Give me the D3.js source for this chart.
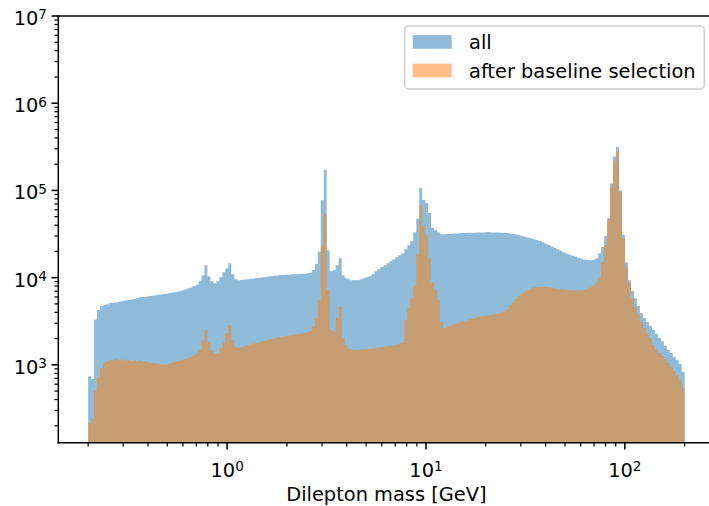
<!DOCTYPE html>
<html>
<head>
<meta charset="utf-8">
<script src="https://cdn.jsdelivr.net/npm/d3@7"></script>
<style>
  html, body { margin: 0; padding: 0; background: #ffffff; }
  svg { display: block; }
  text { font-family: "DejaVu Sans", sans-serif; fill: #000; }
</style>
</head>
<body>
<script>
// ---------------- data ----------------
const massMin = 0.2;       // GeV, first bin edge
const massMax = 200;       // GeV, last bin edge
const seriesNames = ["all", "after baseline selection"];

// counts per log-spaced bin (200 bins between massMin and massMax)
const countsAll = [
  740, 690, 3300, 4250, 4700, 4850, 4950, 5110,
  5150, 5200, 5300, 5400, 5450, 5550, 5600, 5700, 5850, 5950,
  6000, 6050, 6100, 6200, 6250, 6350, 6400, 6500, 6550, 6650, 6750, 6850, 7000,
  7100, 7300, 7500, 7700, 8000, 8300,
  9100, 10650, 13900, 10400, 9100, 8630, 9100, 10100, 11500, 12800, 14600, 10900, 9600, 9340,
  9400, 9500, 9600, 9700, 9800, 9900, 10000, 10100, 10200, 10300, 10400, 10500, 10600, 10700,
  10700, 10800, 10800, 10900, 10900, 11000, 11000, 11100, 11200, 11400,
  12200, 14300, 20000, 77000, 171000, 20600, 11800, 12200, 13900, 16700, 10650, 9850,
  9600, 9340, 9340, 9340,
  9600, 9850, 10100, 10400, 10900,
  11800, 12500, 13200, 13900, 14600,
  15400, 16200, 17100, 18100, 19050,
  21200, 23500, 26200,
  33200, 47200, 106500, 77600, 71700, 55000, 37100, 35000, 33200, 31500,
  31500, 31600, 31800, 32000, 32100, 32300, 32400, 32500, 32600, 32700,
  32800, 32900, 33000, 33000, 33100, 33100, 33000, 33000, 32900, 32800, 32600, 32400,
  32000, 31700, 31200, 30700, 30100, 29500, 28900, 28200, 27600, 27000,
  26300, 25400, 24500, 23700, 22800, 22000, 21200, 20400, 19600, 18900,
  18300, 17800, 17300, 16900, 16500, 16100, 15900, 15800, 16000, 16600,
  19000, 22500, 30000, 48000, 120000, 245000, 315000, 100000, 31000, 15000,
  9340, 7020, 5800, 4730, 3930, 3440, 3100, 2790, 2510, 2270,
  2030, 1870, 1650, 1480, 1370, 1230, 1135, 1020, 830
];

const countsSelected = [
  215, 240, 500, 724, 920, 1050, 1100,
  1140, 1120, 1160, 1130, 1150, 1120, 1140, 1110, 1130, 1100, 1120,
  1090, 1080, 1060, 1050, 1040, 1030, 1010, 1000, 1020, 1040,
  1060, 1090, 1110, 1140, 1160, 1190, 1230, 1280, 1350,
  1480, 1920, 2510, 1830, 1480, 1330, 1370, 1560, 1780, 2320, 2860, 1920, 1600, 1560,
  1600, 1630, 1670, 1710, 1740, 1780, 1820, 1860, 1890, 1930, 1970, 2010, 2050, 2090,
  2110, 2140, 2170, 2200, 2230, 2260, 2290, 2330, 2370, 2420,
  2710, 3440, 5500, 23500, 54000, 7200, 2510, 2380, 3440, 4600, 2030, 1690,
  1530, 1500, 1480, 1480, 1490, 1500, 1510, 1530, 1540, 1560,
  1570, 1590, 1610, 1630, 1650, 1670, 1700, 1720, 1780,
  3270, 4480, 5800, 8190, 18100, 68000, 40000, 30600, 16700, 8860, 7200, 5530, 3100, 2640,
  2750, 2830, 2900, 2980, 3050, 3130, 3200, 3280, 3360, 3440, 3520,
  3560, 3600, 3650, 3700, 3750, 3800, 3850, 3950, 4100, 4350,
  4800, 5200, 5700, 6100, 6500, 6900, 7200, 7500, 7700, 7800,
  7850, 7850, 7800, 7750, 7650, 7550, 7450, 7350, 7250, 7200,
  7150, 7100, 7100, 7100, 7150, 7250, 7450, 7700, 8100, 8800,
  10100, 15000, 23500, 45800, 108000, 220000, 280000, 95000, 28000, 13000,
  8630, 5800, 4600, 3730, 3100, 2640, 2320, 2030, 1690, 1520,
  1370, 1260, 1170, 1050, 950, 850, 764, 670, 540
];

const xMajorTicks = [1, 10, 100];
const yMajorTicks = [1e3, 1e4, 1e5, 1e6, 1e7];
const xLabel = "Dilepton mass [GeV]";

// ---------------- layout ----------------
const W = 709, H = 506;
const plot = { left: 58.3, right: 714.5, top: 16, bottom: 442.7 };
const fontSize = 19.4;
const colors = ["#1f77b4", "#ff7f0e"];

const svg = d3.select("body").append("svg")
  .attr("width", W).attr("height", H);

const x = d3.scaleLog().domain([Math.pow(10, -0.849), Math.pow(10, 2.451)])
  .range([plot.left, plot.right]);
const y = d3.scaleLog().domain([128, 1e7]).range([plot.bottom, plot.top]);

svg.append("defs").append("clipPath").attr("id", "clip")
  .append("rect")
  .attr("x", plot.left).attr("y", plot.top)
  .attr("width", plot.right - plot.left).attr("height", plot.bottom - plot.top);

function edgesFor(n) {
  return d3.range(n + 1).map(i => massMin * Math.pow(massMax / massMin, i / n));
}

function histPoints(counts) {
  const e = edgesFor(counts.length);
  const pts = counts.map((c, i) => ({ m: e[i], c: c }));
  pts.push({ m: e[counts.length], c: counts[counts.length - 1] });
  return pts;
}

const area = d3.area()
  .curve(d3.curveStepAfter)
  .x(d => x(d.m))
  .y0(plot.bottom + 5)
  .y1(d => y(d.c));

const gData = svg.append("g").attr("clip-path", "url(#clip)");
[countsAll, countsSelected].forEach((counts, k) => {
  gData.append("path")
    .datum(histPoints(counts))
    .attr("d", area)
    .attr("fill", colors[k])
    .attr("fill-opacity", 0.5)
    .attr("stroke", "none");
});

// ---------------- axes ----------------
const majorLen = 6.8, minorLen = 3.9, tickW = 1.55, minorW = 1.2;

// minor ticks lists
const xMinor = [];
for (let p = -1; p <= 2; p++) for (let k = 2; k <= 9; k++) {
  const v = k * Math.pow(10, p);
  if (v >= x.domain()[0] && v <= x.domain()[1]) xMinor.push(v);
}
const yMinor = [];
for (let p = 2; p <= 6; p++) for (let k = 2; k <= 9; k++) {
  const v = k * Math.pow(10, p);
  if (v >= y.domain()[0] && v <= y.domain()[1]) yMinor.push(v);
}

const gAxes = svg.append("g");
// x ticks
xMinor.forEach(v => gAxes.append("line")
  .attr("x1", x(v)).attr("x2", x(v))
  .attr("y1", plot.bottom).attr("y2", plot.bottom + minorLen)
  .attr("stroke", "#000").attr("stroke-width", minorW));
xMajorTicks.forEach(v => gAxes.append("line")
  .attr("x1", x(v)).attr("x2", x(v))
  .attr("y1", plot.bottom).attr("y2", plot.bottom + majorLen)
  .attr("stroke", "#000").attr("stroke-width", tickW));
// y ticks
yMinor.forEach(v => gAxes.append("line")
  .attr("x1", plot.left - minorLen).attr("x2", plot.left)
  .attr("y1", y(v)).attr("y2", y(v))
  .attr("stroke", "#000").attr("stroke-width", minorW));
yMajorTicks.forEach(v => gAxes.append("line")
  .attr("x1", plot.left - majorLen).attr("x2", plot.left)
  .attr("y1", y(v)).attr("y2", y(v))
  .attr("stroke", "#000").attr("stroke-width", tickW));

function powLabel(sel, v) {
  const e = Math.round(Math.log10(v));
  sel.append("tspan").text("10");
  sel.append("tspan").attr("dy", "-0.42em").attr("font-size", (fontSize * 0.7) + "px").text(e);
}

xMajorTicks.forEach(v => {
  const t = gAxes.append("text")
    .attr("x", x(v)).attr("y", 477)
    .attr("text-anchor", "middle")
    .attr("font-size", fontSize + "px");
  powLabel(t, v);
});
yMajorTicks.forEach(v => {
  const t = gAxes.append("text")
    .attr("x", 47).attr("y", y(v) + 9)
    .attr("text-anchor", "end")
    .attr("font-size", fontSize + "px");
  powLabel(t, v);
});

// spines
gAxes.append("line").attr("x1", plot.left).attr("x2", plot.left)
  .attr("y1", plot.top).attr("y2", plot.bottom)
  .attr("stroke", "#000").attr("stroke-width", tickW).attr("stroke-linecap", "square");
gAxes.append("line").attr("x1", plot.left).attr("x2", plot.right)
  .attr("y1", plot.bottom).attr("y2", plot.bottom)
  .attr("stroke", "#000").attr("stroke-width", tickW).attr("stroke-linecap", "square");
gAxes.append("line").attr("x1", plot.left).attr("x2", plot.right)
  .attr("y1", plot.top).attr("y2", plot.top)
  .attr("stroke", "#000").attr("stroke-width", tickW).attr("stroke-linecap", "square");
gAxes.append("line").attr("x1", plot.right).attr("x2", plot.right)
  .attr("y1", plot.top).attr("y2", plot.bottom)
  .attr("stroke", "#000").attr("stroke-width", tickW);

// x label
svg.append("text")
  .attr("x", (plot.left + plot.right) / 2).attr("y", 501)
  .attr("text-anchor", "middle")
  .attr("font-size", fontSize + "px")
  .text(xLabel);

// ---------------- legend ----------------
const lg = svg.append("g");
lg.append("rect")
  .attr("x", 404.7).attr("y", 26).attr("width", 299.6).attr("height", 63)
  .attr("rx", 4).attr("ry", 4)
  .attr("fill", "#ffffff").attr("fill-opacity", 0.8)
  .attr("stroke", "#cccccc").attr("stroke-width", 1.5);
seriesNames.forEach((name, k) => {
  const yc = 42 + k * 28.5;
  lg.append("rect")
    .attr("x", 412.7).attr("y", yc - 6.9).attr("width", 39).attr("height", 13.7)
    .attr("fill", colors[k]).attr("fill-opacity", 0.5);
  lg.append("text")
    .attr("x", 469).attr("y", yc + 7.3)
    .attr("font-size", fontSize + "px")
    .text(name);
});
</script>
</body>
</html>
